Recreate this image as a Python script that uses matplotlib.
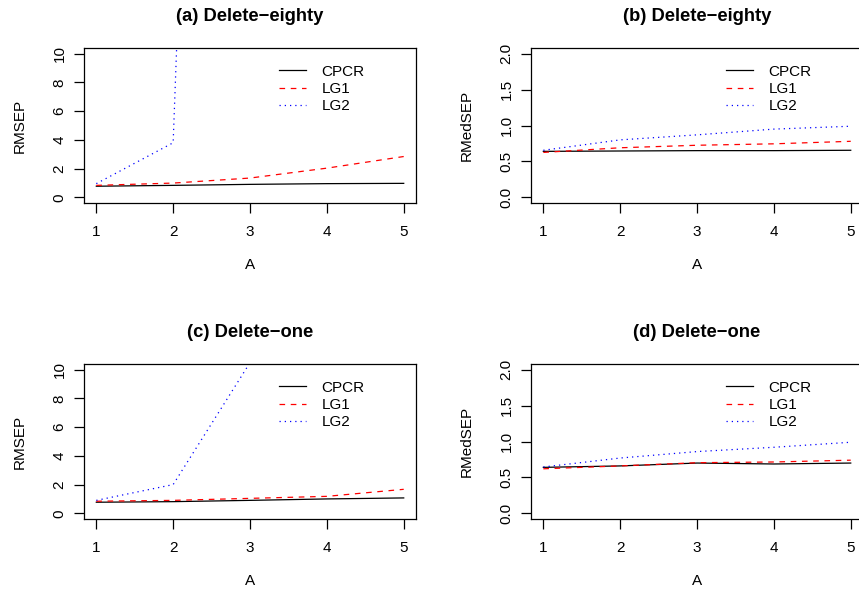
import matplotlib
matplotlib.use("Agg")
import matplotlib.pyplot as plt

plt.rcParams['font.family'] = ['Liberation Sans', 'DejaVu Sans']

A = [1, 2, 3, 4, 5]
labels = ["CPCR", "LG1", "LG2"]

# (a) Delete-eighty, RMSEP
a_cpcr = [0.77, 0.83, 0.90, 0.95, 0.97]
a_lg1 = [0.83, 0.99, 1.34, 2.03, 2.84]
a_lg2 = [0.95, 3.8, 150, 400, 900]

# (b) Delete-eighty, RMedSEP
b_cpcr = [0.64, 0.645, 0.65, 0.65, 0.655]
b_lg1 = [0.625, 0.69, 0.725, 0.745, 0.78]
b_lg2 = [0.655, 0.80, 0.87, 0.95, 0.99]

# (c) Delete-one, RMSEP
c_cpcr = [0.77, 0.81, 0.90, 1.00, 1.07]
c_lg1 = [0.84, 0.90, 1.04, 1.18, 1.67]
c_lg2 = [0.90, 2.0, 10.5, 40, 120]

# (d) Delete-one, RMedSEP
d_cpcr = [0.64, 0.66, 0.70, 0.687, 0.70]
d_lg1 = [0.62, 0.66, 0.705, 0.715, 0.74]
d_lg2 = [0.645, 0.77, 0.86, 0.92, 0.99]

panels = [
    ("(a) Delete\u2212eighty", "RMSEP", (a_cpcr, a_lg1, a_lg2), 10, [0, 2, 4, 6, 8, 10], "%d"),
    ("(b) Delete\u2212eighty", "RMedSEP", (b_cpcr, b_lg1, b_lg2), 2, [0, 0.5, 1.0, 1.5, 2.0], "%.1f"),
    ("(c) Delete\u2212one", "RMSEP", (c_cpcr, c_lg1, c_lg2), 10, [0, 2, 4, 6, 8, 10], "%d"),
    ("(d) Delete\u2212one", "RMedSEP", (d_cpcr, d_lg1, d_lg2), 2, [0, 0.5, 1.0, 1.5, 2.0], "%.1f"),
]

# axes boxes in figure fractions (left, bottom, width, height)
boxes = [
    (0.0978, 0.6559, 0.3865, 0.2627),
    (0.6182, 0.6559, 0.3865, 0.2627),
    (0.0978, 0.1203, 0.3865, 0.2627),
    (0.6182, 0.1203, 0.3865, 0.2627),
]

styles = [
    dict(color="black", linestyle="-"),
    dict(color="#FF0000", linestyle=(0, (4.5, 4.5))),
    dict(color="#0000FF", linestyle=(0, (1, 3.2))),
]


def main():
    fig = plt.figure(figsize=(8.59, 5.90), dpi=100)

    for (title, ylab, series, ymax, yticks, fmt), box in zip(panels, boxes):
        ax = fig.add_axes(box)
        for vals, lab, st in zip(series, labels, styles):
            ax.plot(A, vals, lw=0.9, label=lab, **st)

        # R style 4% padding
        ax.set_xlim(1 - 0.16, 5 + 0.16)
        ax.set_ylim(-0.04 * ymax, 1.04 * ymax)
        ax.set_xticks(A)
        ax.set_yticks(yticks)
        ax.set_yticklabels([fmt % t for t in yticks], rotation=90, va="center")

        for sp in ax.spines.values():
            sp.set_linewidth(0.9)
        ax.tick_params(direction="out", length=7.5, width=0.9, labelsize=11)
        ax.tick_params(axis="x", pad=8)
        ax.tick_params(axis="y", pad=5)

        ax.text(0.5, 1.205, title, transform=ax.transAxes, ha="center", va="center",
                fontsize=13.2, fontweight="bold")
        ax.text(0.5, -0.40, "A", transform=ax.transAxes, ha="center", va="center", fontsize=11)
        ax.text(-0.193, 0.5, ylab, transform=ax.transAxes, ha="center", va="center",
                rotation=90, fontsize=11)

        ax.legend(loc="center left", bbox_to_anchor=(0.587, 0.735), frameon=False,
                  borderpad=0, borderaxespad=0, handlelength=1.8,
                  handletextpad=0.98, labelspacing=0.22, fontsize=11)

    fig.savefig("out.png", dpi=100)


if __name__ == "__main__":
    main()
